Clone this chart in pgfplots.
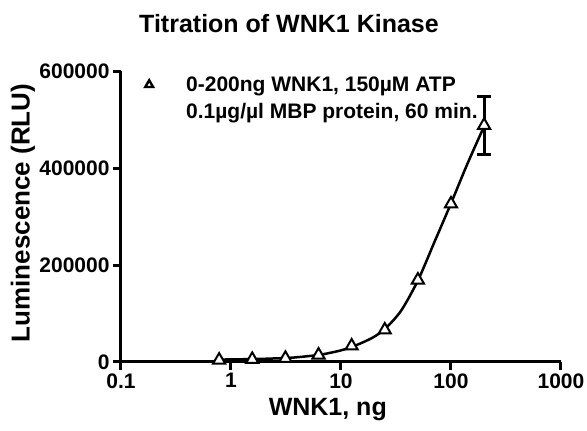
\documentclass[border=0pt]{standalone}
\usepackage{fontspec}
\setmainfont{Liberation Sans}
\usepackage{pgfplots}
\pgfplotsset{compat=1.18}
\begin{document}
\begin{tikzpicture}
\path[use as bounding box] (-121pt,-69pt) rectangle (466pt,362pt);
\begin{axis}[
  at={(0,0)}, anchor=south west,
  scale only axis, width=440pt, height=291pt,
  xmode=log, xmin=0.1, xmax=1000, ymin=0, ymax=600000,
  axis x line*=bottom, axis y line*=left,
  axis line style={line width=3pt, -},
  xtick={0.1,1,10,100,1000}, xticklabels={0.1,1,10,100,1000},
  ytick={0,200000,400000,600000}, yticklabels={0,200000,400000,600000},
  scaled y ticks=false, minor x tick num=0, xminorticks=false,
  tick align=outside, major tick length=8pt,
  every tick/.style={line width=3pt, black},
  tick label style={font=\fontsize{21}{21}\selectfont\bfseries},
  /pgf/number format/assume math mode=true,
  xlabel={WNK1, ng}, ylabel={Luminescence (RLU)},
  xlabel style={font=\fontsize{25}{25}\selectfont\bfseries,
    at={(axis description cs:0.47,0)}, anchor=north, yshift=-33pt},
  ylabel style={font=\fontsize{26}{26}\selectfont\bfseries,
    at={(axis description cs:-0.223,0.512)}, anchor=center},
  clip=false,
  legend style={at={(rel axis cs:0.042,0.995)}, anchor=north west, draw=none, fill=none,
    font=\fontsize{21}{21}\selectfont\bfseries, row sep=6.5pt},
  legend cell align=left,
]
\addplot[black, line width=2.5pt, smooth, forget plot] coordinates {
 (0.78,5000) (1,5300) (1.56,6000) (2,6600) (3.125,8200) (4,9800) (6.25,14500)
 (8,19000) (10,24000) (12.5,31000) (16,41000) (20,52000) (25,68000) (35,105000)
 (50,168000) (70,245000) (100,327000) (140,407000) (200,486000)};
\addplot[only marks, mark=triangle*, mark size=7pt,
  mark options={fill=white, draw=black, line width=2pt},
  legend image code/.code={
    \draw[mark=triangle*, mark size=4.5pt, mark options={fill=white, draw=black, line width=2.4pt}]
      plot coordinates {(6.5pt,0pt)};
    \path[draw=none] (0pt,0pt) -- (41.5pt,0pt);},
  error bars/.cd, y dir=both, y explicit,
  error bar style={line width=3pt, black},
  error mark options={rotate=90, mark size=7pt, line width=3pt, black}]
 coordinates {
 (0.78,4000) (1.56,5500) (3.125,7600) (6.25,14400) (12.5,33000)
 (25,66000) (50,169000) (100,326000) (200,488000) +- (0,60000)};
\addlegendentry{0-200ng WNK1, 150µM ATP}
\addlegendimage{empty legend}
\addlegendentry{0.1µg/µl MBP protein, 60 min.}
\end{axis}
\node[font=\fontsize{25}{25}\selectfont\bfseries] at (168pt,338pt) {Titration of WNK1 Kinase};
\end{tikzpicture}
\end{document}
